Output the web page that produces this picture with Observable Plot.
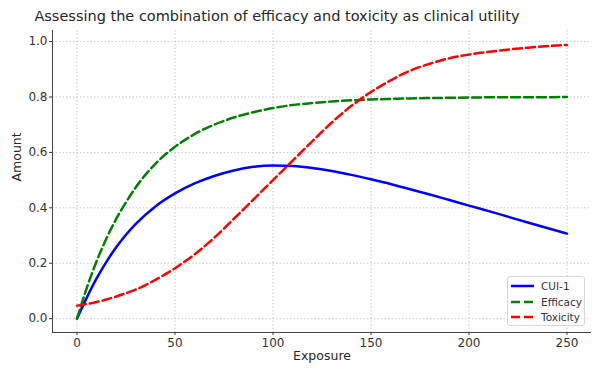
<!DOCTYPE html>
<html>
<head>
<meta charset="utf-8">
<script src="https://cdn.jsdelivr.net/npm/d3@7"></script>
<script src="https://cdn.jsdelivr.net/npm/@observablehq/plot@0.6"></script>
<style>
  html, body { margin: 0; padding: 0; background: #fff; }
  #wrap { position: relative; width: 602px; height: 376px; font-family: "DejaVu Sans", sans-serif; }
  #title { position: absolute; left: 0; top: 8px; width: 554px; text-align: center; font-size: 14.5px; color: #262626; white-space: nowrap; }
  #chart { position: absolute; left: 0; top: 0; }
  #legend { position: absolute; left: 507px; top: 276px; width: 78px; height: 50px; box-sizing: border-box;
            border: 1px solid #d6d6d6; border-radius: 3px; background: rgba(255,255,255,0.85);
            font-size: 10.5px; color: #333; }
  .item { position: absolute; left: 3px; height: 14px; display: flex; align-items: center; }
  .item span { margin-left: 7px; }
</style>
</head>
<body>
<div id="wrap">
  <div id="chart"></div>
  <div id="title">Assessing the combination of efficacy and toxicity as clinical utility</div>
  <div id="legend"></div>
</div>
<script>
const exposure = [0,5,10,15,20,25,30,40,50,60,70,80,90,100,110,120,130,140,150,160,170,180,190,200,215,230,250];
const cui      = [0,0.076,0.145,0.205,0.258,0.303,0.342,0.405,0.452,0.488,0.515,0.535,0.548,0.553,0.551,0.544,0.533,0.519,0.503,0.486,0.467,0.448,0.428,0.408,0.378,0.347,0.307];
const efficacy = [0,0.111,0.207,0.289,0.36,0.42,0.474,0.559,0.62,0.666,0.70,0.726,0.745,0.76,0.771,0.778,0.784,0.788,0.791,0.793,0.795,0.796,0.797,0.798,0.799,0.799,0.8];
const toxicity = [0.047,0.053,0.06,0.069,0.08,0.092,0.105,0.14,0.182,0.232,0.292,0.36,0.43,0.50,0.57,0.64,0.708,0.768,0.818,0.86,0.895,0.92,0.94,0.953,0.967,0.978,0.988];
const seriesNames = ["CUI-1", "Efficacy", "Toxicity"];
const seriesColors = ["#0000ff", "#008000", "#ff0000"];
const seriesDash = [null, "9,4", "9,4"];
const xTicks = [0,50,100,150,200,250];
const yTicks = [0,0.2,0.4,0.6,0.8,1.0];

const seriesValues = [cui, efficacy, toxicity];
const rows = [];
seriesNames.forEach((name, i) => exposure.forEach((x, j) => rows.push({series: name, x, y: seriesValues[i][j]})));

const lines = seriesNames.map((name, i) => Plot.line(rows.filter(d => d.series === name), {
  x: "x", y: "y", stroke: seriesColors[i], strokeWidth: 2.5,
  strokeDasharray: seriesDash[i] || undefined, curve: "monotone-x"
}));

const plot = Plot.plot({
  width: 602, height: 376,
  marginTop: 30, marginBottom: 44, marginLeft: 52, marginRight: 11,
  style: {fontFamily: "DejaVu Sans, sans-serif", fontSize: "12px", color: "#333", background: "transparent"},
  x: {domain: [-12.5, 262.5], ticks: xTicks, tickFormat: d3.format("d"), label: null, tickSize: 3, tickPadding: 3},
  y: {domain: [-0.05, 1.04], ticks: yTicks, tickFormat: d3.format(".1f"), label: null, tickSize: 3, tickPadding: 2},
  marks: [
    Plot.gridX(xTicks, {stroke: "#b0b0b0", strokeOpacity: 0.7, strokeDasharray: "1.5,2"}),
    Plot.gridY(yTicks, {stroke: "#b0b0b0", strokeOpacity: 0.7, strokeDasharray: "1.5,2"}),
    Plot.axisX({ticks: xTicks, tickFormat: d3.format("d"), tickSize: 3, tickPadding: 3, fontSize: 12}),
    Plot.axisY({ticks: yTicks, tickFormat: d3.format(".1f"), tickSize: 3, tickPadding: 2, fontSize: 12}),
    Plot.ruleX([-12.5], {stroke: "#444", strokeWidth: 1}),
    Plot.ruleY([-0.05], {stroke: "#444", strokeWidth: 1}),
    ...lines,
    Plot.text(["Exposure"], {frameAnchor: "bottom", dy: 27, fontSize: 12.5, fill: "#262626"}),
    Plot.text(["Amount"], {frameAnchor: "left", dx: -36, rotate: -90, fontSize: 12.5, fill: "#262626"})
  ]
});
document.getElementById("chart").appendChild(plot);

const legend = document.getElementById("legend");
seriesNames.forEach((name, i) => {
  const item = document.createElement("div");
  item.className = "item";
  item.style.top = (2 + i * 15.5) + "px";
  item.innerHTML = `<svg width="23" height="6"><line x1="0" y1="3" x2="23" y2="3" stroke="${seriesColors[i]}" stroke-width="2.5" ${seriesDash[i] ? `stroke-dasharray="${seriesDash[i]}"` : ""}/></svg><span>${name}</span>`;
  legend.appendChild(item);
});
</script>
</body>
</html>
